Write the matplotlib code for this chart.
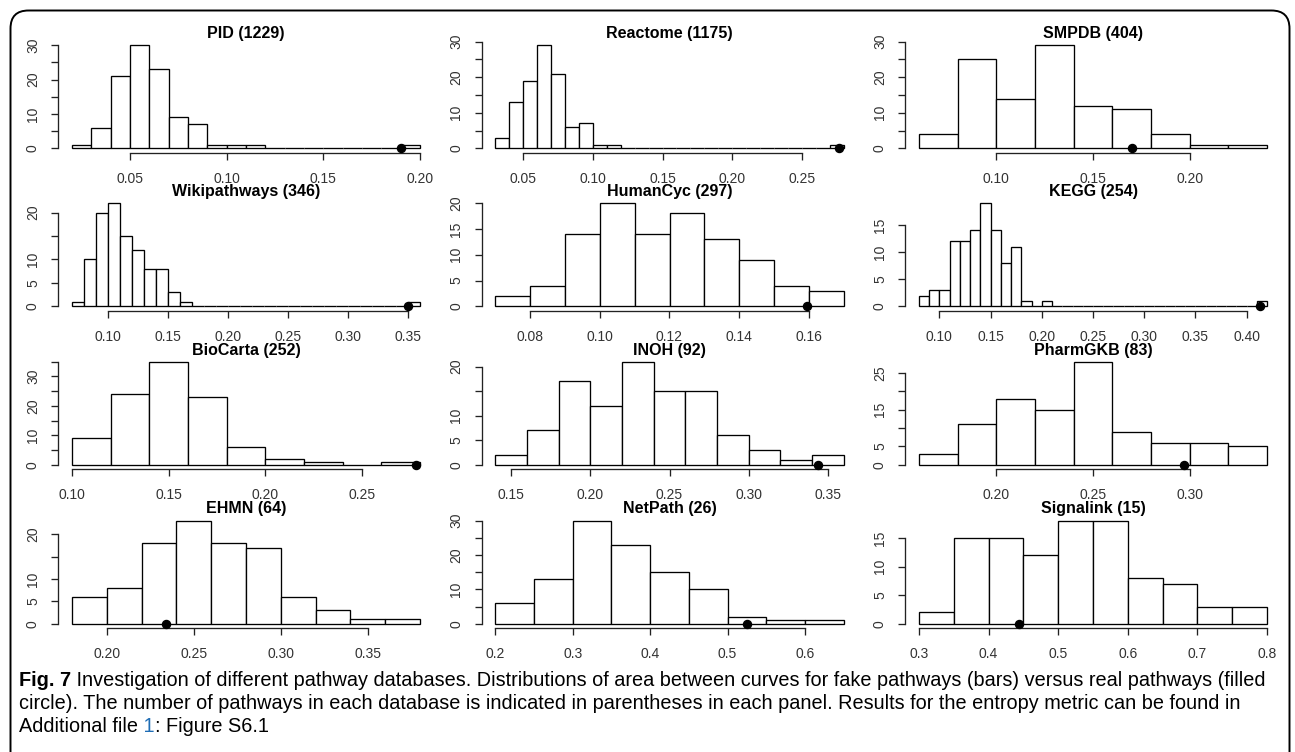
import numpy as np
import matplotlib
matplotlib.use("Agg")
import matplotlib.pyplot as plt
from matplotlib.patches import FancyBboxPatch

plt.rcParams['font.family'] = ['Liberation Sans', 'DejaVu Sans']

# ---------------- data ----------------
panel_titles = ["PID (1229)", "Reactome (1175)", "SMPDB (404)",
                "Wikipathways (346)", "HumanCyc (297)", "KEGG (254)",
                "BioCarta (252)", "INOH (92)", "PharmGKB (83)",
                "EHMN (64)", "NetPath (26)", "Signalink (15)"]

pid_counts = [1, 6, 21, 30, 23, 9, 7, 1, 1, 1, 0, 0, 0, 0, 0, 0, 0, 1]
reactome_counts = [3, 13, 19, 29, 21, 6, 7, 1, 1, 0, 0, 0, 0, 0, 0, 0, 0,
                   0, 0, 0, 0, 0, 0, 0, 1]
smpdb_counts = [4, 25, 14, 29, 12, 11, 4, 1, 1]
wiki_counts = [1, 10, 20, 22, 15, 12, 8, 8, 3, 1, 0, 0, 0, 0, 0, 0, 0, 0,
               0, 0, 0, 0, 0, 0, 0, 0, 0, 0, 1]
humancyc_counts = [2, 4, 14, 20, 14, 18, 13, 9, 4, 3]
kegg_counts = [2, 3, 3, 12, 12, 14, 19, 14, 8, 11, 1, 0, 1, 0, 0, 0, 0, 0,
               0, 0, 0, 0, 0, 0, 0, 0, 0, 0, 0, 0, 0, 0, 0, 1]
biocarta_counts = [9, 24, 35, 23, 6, 2, 1, 0, 1]
inoh_counts = [2, 7, 17, 12, 21, 15, 15, 6, 3, 1, 2]
pharmgkb_counts = [3, 11, 18, 15, 28, 9, 6, 6, 5]
ehmn_counts = [6, 8, 18, 23, 18, 17, 6, 3, 1, 1]
netpath_counts = [6, 13, 30, 23, 15, 10, 2, 1, 1]
signalink_counts = [2, 15, 15, 12, 18, 18, 8, 7, 3, 3]

all_counts = [pid_counts, reactome_counts, smpdb_counts, wiki_counts,
              humancyc_counts, kegg_counts, biocarta_counts, inoh_counts,
              pharmgkb_counts, ehmn_counts, netpath_counts, signalink_counts]

bin_starts = [0.02, 0.03, 0.06, 0.07, 0.07, 0.08, 0.10, 0.14, 0.16, 0.18, 0.20, 0.30]
bin_widths = [0.01, 0.01, 0.02, 0.01, 0.01, 0.01, 0.02, 0.02, 0.02, 0.02, 0.05, 0.05]

real_values = [0.190, 0.277, 0.170, 0.350, 0.1595, 0.413,
               0.278, 0.344, 0.297, 0.234, 0.525, 0.444]

x_ticks = [[0.05, 0.10, 0.15, 0.20],
           [0.05, 0.10, 0.15, 0.20, 0.25],
           [0.10, 0.15, 0.20],
           [0.10, 0.15, 0.20, 0.25, 0.30, 0.35],
           [0.08, 0.10, 0.12, 0.14, 0.16],
           [0.10, 0.15, 0.20, 0.25, 0.30, 0.35, 0.40],
           [0.10, 0.15, 0.20, 0.25],
           [0.15, 0.20, 0.25, 0.30, 0.35],
           [0.20, 0.25, 0.30],
           [0.20, 0.25, 0.30, 0.35],
           [0.2, 0.3, 0.4, 0.5, 0.6],
           [0.3, 0.4, 0.5, 0.6, 0.7, 0.8]]
x_decimals = [2, 2, 2, 2, 2, 2, 2, 2, 2, 2, 1, 1]

y_ticks = [[0, 5, 10, 15, 20, 25, 30],
           [0, 5, 10, 15, 20, 25, 30],
           [0, 5, 10, 15, 20, 25, 30],
           [0, 5, 10, 15, 20],
           [0, 5, 10, 15, 20],
           [0, 5, 10, 15],
           [0, 5, 10, 15, 20, 25, 30, 35],
           [0, 5, 10, 15, 20],
           [0, 5, 10, 15, 20, 25],
           [0, 5, 10, 15, 20],
           [0, 5, 10, 15, 20, 25, 30],
           [0, 5, 10, 15]]
y_labels = [["0", "", "10", "", "20", "", "30"],
            ["0", "", "10", "", "20", "", "30"],
            ["0", "", "10", "", "20", "", "30"],
            ["0", "5", "10", "", "20"],
            ["0", "5", "10", "15", "20"],
            ["0", "5", "10", "15"],
            ["0", "", "10", "", "20", "", "30", ""],
            ["0", "5", "10", "", "20"],
            ["0", "5", "", "15", "", "25"],
            ["0", "5", "10", "", "20"],
            ["0", "", "10", "", "20", "", "30"],
            ["0", "5", "10", "15"]]

caption_lines = [
    [("Fig. 7", "bold", "black"),
     (" Investigation of different pathway databases. Distributions of area between curves for fake pathways (bars) versus real pathways (filled", "normal", "black")],
    [("circle). The number of pathways in each database is indicated in parentheses in each panel. Results for the entropy metric can be found in", "normal", "black")],
    [("Additional file", "normal", "black"), (" 1", "normal", "#1f6db5"),
     (": Figure S6.1", "normal", "black")],
]

# ---------------- layout (pixels) ----------------
W, H = 1295, 752
fig = plt.figure(figsize=(W / 100, H / 100), dpi=100)
fig.patch.set_facecolor("white")

col_lefts = [58, 481.5, 905]
row_bottoms = [152.5, 310.5, 469, 628]
pw, ph = 376, 111.5

bg = fig.add_axes([0, 0, 1, 1], zorder=-1)
bg.set_xlim(0, W)
bg.set_ylim(H, 0)
bg.axis("off")
frame = FancyBboxPatch((10.5, 10.5), 1279, 820,
                       boxstyle="round,pad=0,rounding_size=18",
                       fc="none", ec="black", lw=1.4)
bg.add_patch(frame)

axis_col = "#222222"
for i in range(12):
    r, c = divmod(i, 3)
    left = col_lefts[c]
    bottom = row_bottoms[r]
    ax = fig.add_axes([left / W, 1 - bottom / H, pw / W, ph / H])
    ax.set_facecolor("none")
    counts = np.array(all_counts[i])
    edges = bin_starts[i] + bin_widths[i] * np.arange(len(counts) + 1)
    ax.bar(edges[:-1], counts, width=bin_widths[i], align="edge",
           facecolor="white", edgecolor="black", linewidth=0.95)
    ax.plot([real_values[i]], [0], "o", color="black", markersize=5.8,
            zorder=5, clip_on=False)
    lo, hi = edges[0], edges[-1]
    ext = 0.04 * (hi - lo)
    ax.set_xlim(lo - ext, hi + ext)
    ymax = counts.max()
    ax.set_ylim(-0.04 * ymax, 1.04 * ymax)

    for s in ["top", "right"]:
        ax.spines[s].set_visible(False)
    ax.spines["bottom"].set_bounds(x_ticks[i][0], x_ticks[i][-1])
    ax.spines["left"].set_bounds(y_ticks[i][0], y_ticks[i][-1])
    for s in ["bottom", "left"]:
        ax.spines[s].set_linewidth(0.95)
        ax.spines[s].set_color(axis_col)

    ax.set_xticks(x_ticks[i])
    ax.set_xticklabels([f"{v:.{x_decimals[i]}f}" for v in x_ticks[i]])
    ax.set_yticks(y_ticks[i])
    ax.set_yticklabels(y_labels[i], rotation=90, va="center")
    ax.tick_params(axis="both", direction="out", length=5, width=0.95,
                   color=axis_col, labelcolor="#333333", labelsize=10)
    ax.tick_params(axis="x", pad=9)
    ax.tick_params(axis="y", pad=8)
    ax.set_title(panel_titles[i], fontsize=11.5, fontweight="bold", pad=2)

# ---------------- caption ----------------
fig.canvas.draw()
renderer = fig.canvas.get_renderer()


def text_w(s, size, weight):
    t = bg.text(0, 0, s, fontsize=size, fontweight=weight)
    w = t.get_window_extent(renderer=renderer).width
    t.remove()
    return w


def seg_w(s, size, weight):
    # width including leading spaces
    return text_w("x" + s + "x", size, weight) - text_w("xx", size, weight)


base = 12.0
line1_w = sum(seg_w(s, base, wgt) for s, wgt, _ in caption_lines[0])
cap_size = base * (1265 - 19) / line1_w

baselines = [686, 709, 732]
for line, yb in zip(caption_lines, baselines):
    x = 19
    for s, wgt, col in line:
        bg.text(x, yb, s, fontsize=cap_size, fontweight=wgt, color=col,
                va="baseline", ha="left")
        x += seg_w(s, cap_size, wgt)

fig.savefig("out.png", dpi=100, facecolor="white")
